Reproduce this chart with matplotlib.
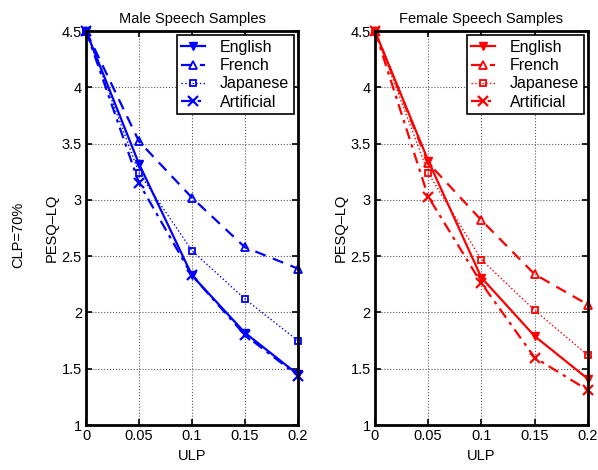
import numpy as np
import matplotlib.pyplot as plt

plt.rcParams['font.family'] = ['Liberation Sans', 'DejaVu Sans']
plt.rcParams['font.size'] = 10.5

ulp = [0, 0.05, 0.1, 0.15, 0.2]
languages = ['English', 'French', 'Japanese', 'Artificial']

male = {
    'English':    [4.5, 3.32, 2.33, 1.82, 1.45],
    'French':     [4.5, 3.52, 3.02, 2.58, 2.39],
    'Japanese':   [4.5, 3.24, 2.55, 2.12, 1.75],
    'Artificial': [4.5, 3.15, 2.33, 1.80, 1.44],
}
female = {
    'English':    [4.5, 3.35, 2.31, 1.79, 1.41],
    'French':     [4.5, 3.33, 2.82, 2.34, 2.07],
    'Japanese':   [4.5, 3.24, 2.47, 2.02, 1.62],
    'Artificial': [4.5, 3.03, 2.26, 1.60, 1.31],
}

styles = {
    'English':    dict(ls='-', marker='v', lw=1.6, ms=6),
    'French':     dict(ls=(0, (5, 3.5)), marker='^', lw=1.6, ms=6, mfc='none', mew=1.3),
    'Japanese':   dict(ls=':', marker='s', lw=1.0, ms=4.5, mfc='none', mew=1.3),
    'Artificial': dict(ls=(0, (5, 2.5, 1.5, 2.5)), marker='x', lw=1.6, ms=7, mew=1.6),
}

fig = plt.figure(figsize=(5.98, 4.70), dpi=100)
ax1 = fig.add_axes([0.144, 0.0957, 0.354, 0.838])
ax2 = fig.add_axes([0.627, 0.0957, 0.356, 0.838])

for ax, data, col, title in [(ax1, male, 'blue', 'Male Speech Samples'),
                             (ax2, female, 'red', 'Female Speech Samples')]:
    for lang in languages:
        st = dict(styles[lang])
        ax.plot(ulp, data[lang], color=col, label=lang, clip_on=False, **st)
    ax.set_xlim(0, 0.2)
    ax.set_ylim(1, 4.5)
    ax.set_xticks([0, 0.05, 0.1, 0.15, 0.2])
    ax.set_xticklabels(['0', '0.05', '0.1', '0.15', '0.2'])
    ax.set_yticks([1, 1.5, 2, 2.5, 3, 3.5, 4, 4.5])
    ax.set_yticklabels(['1', '1.5', '2', '2.5', '3', '3.5', '4', '4.5'])
    ax.grid(True, ls=':', color='0.35', lw=0.8)
    ax.tick_params(direction='in', top=True, right=True, length=4, width=1.2, pad=3)
    for s in ax.spines.values():
        s.set_linewidth(2)
    ax.set_xlabel('ULP', labelpad=4)
    ax.set_ylabel('PESQ\u2013LQ', labelpad=2)
    ax.set_title(title, fontsize=10.5, pad=6)
    leg = ax.legend(loc='upper right', fancybox=False, framealpha=1,
                    edgecolor='black', borderaxespad=0.25, handlelength=1.5,
                    labelspacing=0.2, borderpad=0.3, handletextpad=0.9,
                    fontsize=11.5)
    leg.get_frame().set_linewidth(1.2)

fig.text(0.03, 0.5, 'CLP=70%', rotation=90, va='center', ha='center', fontsize=10.5)

fig.savefig('out.png', dpi=100)
